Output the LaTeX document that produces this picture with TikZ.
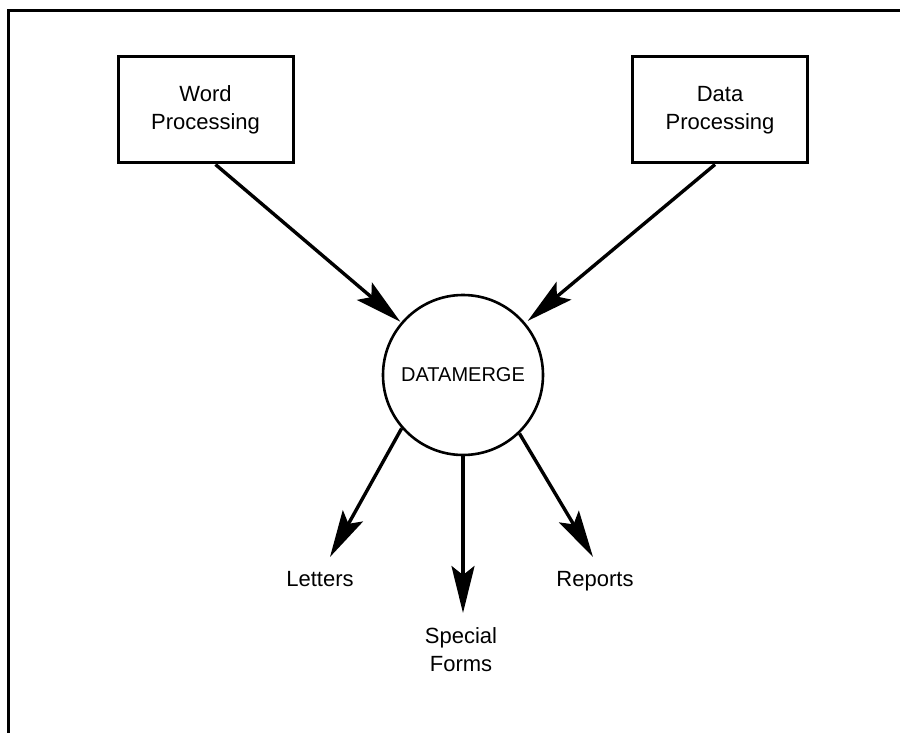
\documentclass[tikz,border=0pt]{standalone}
\usepackage{fontspec}
\setmainfont{Liberation Sans}
\usetikzlibrary{arrows.meta,calc}
\begin{document}
\begin{tikzpicture}[x=1pt,y=-1pt,
  every node/.style={font=\fontsize{22}{28}\selectfont},
  procbox/.style={draw,line width=3pt,minimum width=175pt,minimum height=106pt,align=center,inner sep=0pt},
  hub/.style={draw,circle,line width=2.6pt,minimum size=160pt,inner sep=0pt,font=\fontsize{20}{24}\selectfont},
  lbl/.style={align=center,inner sep=0pt,anchor=base},
  flow/.style={line width=3.4pt,-{Stealth[length=47pt,width=23pt,inset=9pt]}}]
\useasboundingbox (0,0) rectangle (900,733);
\fill[white] (0,0) rectangle (900,733);
\draw[line width=3pt] (8,733) -- (8,11) -- (900,11);
\node[procbox] (wp) at (205.5,110) {Word\\Processing};
\node[procbox] (dp) at (720,110) {Data\\Processing};
\node[hub] (dm) at (463,375) {DATAMERGE};
\node[lbl] (letters) at (320,586) {Letters};
\node[lbl] (reports) at (595,586) {Reports};
\node[lbl,anchor=center] (special) at (461,650) {Special\\Forms};
\coordinate (tl) at (330,557);
\coordinate (ts) at (463,613);
\coordinate (tr) at (593,557);
\draw[flow,shorten >=1pt] ($(wp.south)+(10,0)$) -- (dm);
\draw[flow,shorten >=3pt] ($(dp.south)+(-5,0)$) -- (dm);
\draw[flow] (dm.221) -- (tl);
\draw[flow] (dm.south) -- (ts);
\draw[flow] (dm.314) -- (tr);
\end{tikzpicture}
\end{document}
